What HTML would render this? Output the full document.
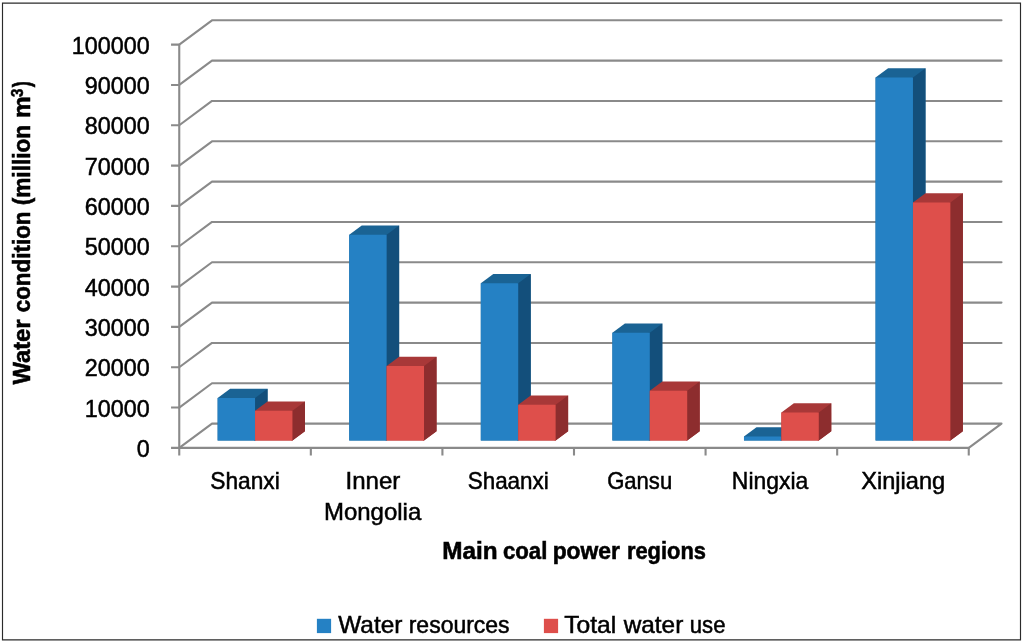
<!DOCTYPE html>
<html lang="en"><head><meta charset="utf-8"><title>Water condition of main coal power regions</title>
<style>html,body{margin:0;padding:0;background:#fff;}body{width:1024px;height:644px;overflow:hidden;}svg{display:block;}text{font-family:"Liberation Sans",sans-serif;fill:#000;stroke:#000;stroke-width:0.5px;}text.b{font-weight:bold;stroke-width:0.55px;}</style></head><body>
<svg width="1024" height="644" viewBox="0 0 1024 644">
<rect x="0" y="0" width="1024" height="644" fill="#fff"/>
<path d="M2.5 2.5V640.4M2 3.05H1020.9M1020.5 2.5V640.4M2 639.9H1020.9" fill="none" stroke="#2b2b2b" stroke-width="1.15"/>
<g fill="none" stroke="#8a8a8a" stroke-width="2.1" stroke-linejoin="round" stroke-linecap="round">
<path d="M179.25 447.90L212.00 423.60H1001.50L968.75 447.90"/>
<path d="M179.25 407.57L212.00 383.27H1001.50"/>
<path d="M179.25 367.24L212.00 342.94H1001.50"/>
<path d="M179.25 326.91L212.00 302.61H1001.50"/>
<path d="M179.25 286.58L212.00 262.28H1001.50"/>
<path d="M179.25 246.25L212.00 221.95H1001.50"/>
<path d="M179.25 205.92L212.00 181.62H1001.50"/>
<path d="M179.25 165.59L212.00 141.29H1001.50"/>
<path d="M179.25 125.26L212.00 100.96H1001.50"/>
<path d="M179.25 84.93L212.00 60.63H1001.50"/>
<path d="M179.25 44.60L212.00 20.30H1001.50"/>
</g>
<g stroke="none">
<path fill="#1A6394" d="M217.65 398.00L230.15 388.75H267.55V431.25L255.05 440.50H217.65Z"/><path fill="#134F7B" d="M254.05 398.00H255.05L267.55 388.75V431.25L255.05 440.50H254.05Z"/><rect fill="#2581C4" x="217.65" y="398.00" width="37.40" height="42.50"/>
<path fill="#A83838" d="M255.05 410.75L267.55 401.50H304.95V431.25L292.45 440.50H255.05Z"/><path fill="#8D2D2E" d="M291.45 410.75H292.45L304.95 401.50V431.25L292.45 440.50H291.45Z"/><rect fill="#DE4F4B" x="255.05" y="410.75" width="37.40" height="29.75"/>
<path fill="#1A6394" d="M349.23 234.75L361.73 225.50H399.13V431.25L386.63 440.50H349.23Z"/><path fill="#134F7B" d="M385.63 234.75H386.63L399.13 225.50V431.25L386.63 440.50H385.63Z"/><rect fill="#2581C4" x="349.23" y="234.75" width="37.40" height="205.75"/>
<path fill="#A83838" d="M386.63 366.00L399.13 356.75H436.53V431.25L424.03 440.50H386.63Z"/><path fill="#8D2D2E" d="M423.03 366.00H424.03L436.53 356.75V431.25L424.03 440.50H423.03Z"/><rect fill="#DE4F4B" x="386.63" y="366.00" width="37.40" height="74.50"/>
<path fill="#1A6394" d="M480.82 283.25L493.32 274.00H530.72V431.25L518.22 440.50H480.82Z"/><path fill="#134F7B" d="M517.22 283.25H518.22L530.72 274.00V431.25L518.22 440.50H517.22Z"/><rect fill="#2581C4" x="480.82" y="283.25" width="37.40" height="157.25"/>
<path fill="#A83838" d="M518.22 404.75L530.72 395.50H568.12V431.25L555.62 440.50H518.22Z"/><path fill="#8D2D2E" d="M554.62 404.75H555.62L568.12 395.50V431.25L555.62 440.50H554.62Z"/><rect fill="#DE4F4B" x="518.22" y="404.75" width="37.40" height="35.75"/>
<path fill="#1A6394" d="M612.40 332.75L624.90 323.50H662.30V431.25L649.80 440.50H612.40Z"/><path fill="#134F7B" d="M648.80 332.75H649.80L662.30 323.50V431.25L649.80 440.50H648.80Z"/><rect fill="#2581C4" x="612.40" y="332.75" width="37.40" height="107.75"/>
<path fill="#A83838" d="M649.80 390.75L662.30 381.50H699.70V431.25L687.20 440.50H649.80Z"/><path fill="#8D2D2E" d="M686.20 390.75H687.20L699.70 381.50V431.25L687.20 440.50H686.20Z"/><rect fill="#DE4F4B" x="649.80" y="390.75" width="37.40" height="49.75"/>
<path fill="#1A6394" d="M743.98 436.50L756.48 427.25H793.88V431.25L781.38 440.50H743.98Z"/><path fill="#134F7B" d="M780.38 436.50H781.38L793.88 427.25V431.25L781.38 440.50H780.38Z"/><rect fill="#2581C4" x="743.98" y="436.50" width="37.40" height="4.00"/>
<path fill="#A83838" d="M781.38 412.50L793.88 403.25H831.28V431.25L818.78 440.50H781.38Z"/><path fill="#8D2D2E" d="M817.78 412.50H818.78L831.28 403.25V431.25L818.78 440.50H817.78Z"/><rect fill="#DE4F4B" x="781.38" y="412.50" width="37.40" height="28.00"/>
<path fill="#1A6394" d="M875.57 77.50L888.07 68.25H925.47V431.25L912.97 440.50H875.57Z"/><path fill="#134F7B" d="M911.97 77.50H912.97L925.47 68.25V431.25L912.97 440.50H911.97Z"/><rect fill="#2581C4" x="875.57" y="77.50" width="37.40" height="363.00"/>
<path fill="#A83838" d="M912.97 202.50L925.47 193.25H962.87V431.25L950.37 440.50H912.97Z"/><path fill="#8D2D2E" d="M949.37 202.50H950.37L962.87 193.25V431.25L950.37 440.50H949.37Z"/><rect fill="#DE4F4B" x="912.97" y="202.50" width="37.40" height="238.00"/>
</g>
<g fill="none" stroke="#8a8a8a" stroke-width="2.1">
<path d="M179.25 44.60V455.60"/>
<path d="M171.05 447.90H968.75"/>
<path d="M171.05 407.57H179.25M171.05 367.24H179.25M171.05 326.91H179.25M171.05 286.58H179.25M171.05 246.25H179.25M171.05 205.92H179.25M171.05 165.59H179.25M171.05 125.26H179.25M171.05 84.93H179.25M171.05 44.60H179.25M310.83 447.90V455.60M442.42 447.90V455.60M574.00 447.90V455.60M705.58 447.90V455.60M837.17 447.90V455.60M968.75 447.90V455.60"/>
</g>
<g font-size="24.4" text-anchor="end">
<text x="149.7" y="457.00" textLength="13.0" lengthAdjust="spacingAndGlyphs">0</text>
<text x="149.7" y="416.67" textLength="65.0" lengthAdjust="spacingAndGlyphs">10000</text>
<text x="149.7" y="376.34" textLength="65.0" lengthAdjust="spacingAndGlyphs">20000</text>
<text x="149.7" y="336.01" textLength="65.0" lengthAdjust="spacingAndGlyphs">30000</text>
<text x="149.7" y="295.68" textLength="65.0" lengthAdjust="spacingAndGlyphs">40000</text>
<text x="149.7" y="255.35" textLength="65.0" lengthAdjust="spacingAndGlyphs">50000</text>
<text x="149.7" y="215.02" textLength="65.0" lengthAdjust="spacingAndGlyphs">60000</text>
<text x="149.7" y="174.69" textLength="65.0" lengthAdjust="spacingAndGlyphs">70000</text>
<text x="149.7" y="134.36" textLength="65.0" lengthAdjust="spacingAndGlyphs">80000</text>
<text x="149.7" y="94.03" textLength="65.0" lengthAdjust="spacingAndGlyphs">90000</text>
<text x="149.7" y="53.70" textLength="78.0" lengthAdjust="spacingAndGlyphs">100000</text>
</g>
<g font-size="23.4">
<text x="210.22" y="488.5" textLength="69.57" lengthAdjust="spacingAndGlyphs">Shanxi</text>
<text x="345.53" y="488.5" textLength="54.87" lengthAdjust="spacingAndGlyphs">Inner</text>
<text x="324.03" y="520" textLength="97.22" lengthAdjust="spacingAndGlyphs">Mongolia</text>
<text x="467.73" y="488.5" textLength="81.03" lengthAdjust="spacingAndGlyphs">Shaanxi</text>
<text x="607.14" y="488.5" textLength="65.08" lengthAdjust="spacingAndGlyphs">Gansu</text>
<text x="731.87" y="488.5" textLength="76.38" lengthAdjust="spacingAndGlyphs">Ningxia</text>
<text x="861.22" y="488.5" textLength="84.05" lengthAdjust="spacingAndGlyphs">Xinjiang</text>
<text class="b" x="442.35" y="559.3" textLength="55.38" lengthAdjust="spacingAndGlyphs">Main</text>
<text class="b" x="502.91" y="559.3" textLength="44.39" lengthAdjust="spacingAndGlyphs">coal</text>
<text class="b" x="552.67" y="559.3" textLength="67.30" lengthAdjust="spacingAndGlyphs">power</text>
<text class="b" x="626.93" y="559.3" textLength="78.99" lengthAdjust="spacingAndGlyphs">regions</text>
<text x="338.24" y="633.3" textLength="64.16" lengthAdjust="spacingAndGlyphs">Water</text>
<text x="408.72" y="633.3" textLength="100.86" lengthAdjust="spacingAndGlyphs">resources</text>
<text x="564.22" y="633.3" textLength="52.09" lengthAdjust="spacingAndGlyphs">Total</text>
<text x="623.79" y="633.3" textLength="59.47" lengthAdjust="spacingAndGlyphs">water</text>
<text x="689.81" y="633.3" textLength="35.67" lengthAdjust="spacingAndGlyphs">use</text>
</g>
<rect x="316.9" y="618.8" width="14.2" height="14.3" fill="#2581C4"/>
<rect x="543.9" y="618.8" width="14.2" height="14.3" fill="#DE4F4B"/>
<g font-size="23.4" transform="translate(29.6 384.8) rotate(-90)">
<text class="b" x="0.25" y="0" textLength="65.13" lengthAdjust="spacingAndGlyphs">Water</text>
<text class="b" x="72.50" y="0" textLength="100.81" lengthAdjust="spacingAndGlyphs">condition</text>
<text class="b" x="179.45" y="0" textLength="80.58" lengthAdjust="spacingAndGlyphs">(million</text>
<text class="b" x="266.87" y="0" textLength="21.67" lengthAdjust="spacingAndGlyphs">m</text>
<text class="b" x="287.73" y="-6.9" font-size="16.5" textLength="8.34" lengthAdjust="spacingAndGlyphs">3</text>
<text class="b" x="297.46" y="0" textLength="5.96" lengthAdjust="spacingAndGlyphs">)</text>
</g>
</svg></body></html>
